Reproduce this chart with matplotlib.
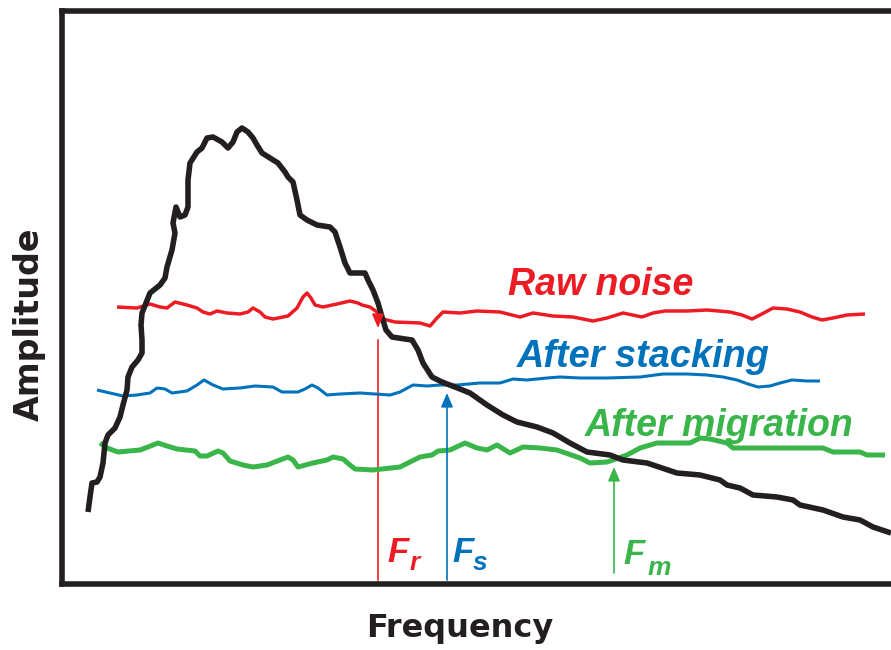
import matplotlib
matplotlib.use("Agg")
import matplotlib.pyplot as plt

# Colours
BLACK = "#231F20"
RED = "#ED1C24"
BLUE = "#0072BC"
GREEN = "#39B54A"

# Signal spectrum (frequency, amplitude) in arbitrary units
signal_f = [26, 28, 30, 35, 38, 41, 43, 46, 53, 58, 61, 65, 66, 70, 76, 80, 80, 79, 80,
            88, 98, 103, 105, 110, 113, 111, 114, 118, 123, 126, 126, 128, 135, 140, 145,
            151, 160, 166, 171, 175, 180, 186, 191, 195, 200, 208, 216, 223, 226, 231,
            235, 238, 245, 255, 268, 273, 278, 283, 288, 295, 303, 306, 311, 316, 320,
            324, 330, 343, 350, 356, 361, 370, 380, 393, 408, 425, 441, 455, 475, 491,
            508, 525, 548, 561, 585, 615, 638, 658, 665, 678, 691, 715, 731, 738, 761,
            781, 798, 811, 829]
signal_a = [72, 87, 101, 102, 107, 121, 141, 149, 156, 167, 179, 194, 207, 217, 224, 231,
            244, 259, 271, 291, 299, 306, 317, 334, 351, 361, 377, 367, 369, 377, 404,
            421, 432, 436, 446, 447, 442, 436, 442, 452, 456, 452, 446, 439, 431, 426,
            421, 412, 407, 402, 384, 369, 364, 359, 357, 352, 337, 321, 311, 311, 311,
            304, 294, 281, 267, 254, 247, 245, 244, 234, 221, 207, 202, 197, 191, 179,
            169, 162, 157, 151, 141, 132, 129, 124, 121, 111, 109, 104, 99, 96, 89, 87,
            84, 79, 74, 67, 64, 57, 51]

# Raw noise spectrum
raw_f = [55, 75, 88, 98, 105, 113, 125, 135, 141, 148, 155, 165, 178, 186, 191, 198,
         203, 211, 226, 235, 241, 245, 249, 253, 261, 275, 288, 296, 300, 308, 315, 321,
         333, 358, 368, 375, 381, 398, 415, 438, 458, 471, 491, 511, 531, 545, 561, 580,
         591, 603, 625, 645, 668, 680, 690, 698, 711, 725, 738, 750, 760, 771, 785, 803]
raw_a = [277, 276, 280, 277, 276, 282, 279, 276, 272, 270, 273, 271, 270, 272, 276, 272,
         267, 265, 268, 276, 287, 291, 286, 279, 277, 280, 283, 281, 279, 277, 272, 265,
         262, 261, 258, 266, 272, 271, 273, 272, 267, 271, 268, 267, 263, 266, 271, 267,
         271, 273, 273, 274, 272, 269, 265, 269, 276, 275, 272, 267, 264, 266, 269, 270]

# Noise after stacking
stack_f = [35, 48, 61, 75, 88, 95, 103, 110, 125, 135, 142, 151, 161, 178, 193, 211,
           220, 236, 243, 250, 256, 265, 278, 298, 328, 338, 351, 365, 378, 395, 418,
           438, 451, 465, 485, 498, 518, 545, 578, 601, 625, 645, 661, 675, 686, 696,
           708, 718, 730, 745, 758]
stack_a = [194, 191, 188, 189, 191, 196, 195, 191, 193, 199, 204, 199, 195, 196, 198,
           197, 192, 192, 195, 199, 196, 189, 190, 191, 189, 192, 199, 198, 199, 199,
           201, 201, 205, 204, 206, 207, 206, 206, 207, 210, 210, 209, 207, 204, 200,
           197, 198, 201, 204, 203, 203]

# Noise after migration
migr_f = [38, 45, 56, 78, 86, 96, 105, 115, 133, 138, 145, 156, 161, 168, 181, 191, 205,
          218, 226, 231, 236, 251, 265, 271, 281, 288, 293, 311, 338, 348, 358, 370, 376,
          388, 403, 415, 425, 435, 448, 461, 478, 495, 518, 528, 545, 565, 578, 595, 628,
          638, 648, 665, 671, 698, 761, 771, 798, 805, 823]
migr_a = [141, 136, 132, 134, 137, 141, 138, 135, 133, 128, 128, 133, 131, 123, 119, 117,
          119, 124, 127, 124, 117, 121, 124, 127, 125, 119, 115, 114, 117, 122, 127, 129,
          133, 134, 141, 136, 134, 139, 131, 137, 136, 134, 126, 121, 122, 129, 136, 141,
          141, 146, 145, 141, 136, 136, 136, 132, 132, 129, 129]

# Cut-off frequencies where each noise level meets the signal
cutoff_f = {"r": 316, "s": 385, "m": 552}

fig = plt.figure(figsize=(8.91, 6.5), dpi=100)
ax = fig.add_axes([62 / 891, 66 / 650, 829 / 891, 573.5 / 650])
ax.set_xlim(0, 829)
ax.set_ylim(0, 573.5)
ax.set_xticks([])
ax.set_yticks([])
for side in ("left", "top", "bottom"):
    ax.spines[side].set_linewidth(4)
    ax.spines[side].set_color(BLACK)
ax.spines["right"].set_visible(False)

line_kw = dict(solid_capstyle="butt", solid_joinstyle="round")
ax.plot(raw_f, raw_a, color=RED, lw=2.5, **line_kw, zorder=3)
ax.plot(stack_f, stack_a, color=BLUE, lw=2.2, **line_kw, zorder=3)
ax.plot(migr_f, migr_a, color=GREEN, lw=3.6, **line_kw, zorder=3)
ax.plot(signal_f, signal_a, color=BLACK, lw=4, **line_kw, zorder=4)

# Cut-off markers
head = dict(arrowstyle="-|>,head_length=0.7,head_width=0.3", mutation_scale=12,
            lw=1.2, shrinkA=0, shrinkB=0)
ax.plot([cutoff_f["r"]] * 2, [4, 244], color=RED, lw=1.2, zorder=2)
ax.annotate("", xy=(cutoff_f["r"], 256), xytext=(cutoff_f["r"], 270),
            arrowprops=dict(color=RED, **head), zorder=5)
ax.annotate("", xy=(cutoff_f["s"], 191), xytext=(cutoff_f["s"], 4),
            arrowprops=dict(color=BLUE, **head), zorder=5)
ax.annotate("", xy=(cutoff_f["m"], 117), xytext=(cutoff_f["m"], 11),
            arrowprops=dict(color=GREEN, **head), zorder=5)

lab_kw = dict(family="Liberation Sans", weight="bold", style="italic", va="baseline",
              ha="left")
ax.text(446, 289, "Raw noise", color=RED, fontsize=27, **lab_kw)
ax.text(455, 217, "After stacking", color=BLUE, fontsize=27.3, **lab_kw)
ax.text(523, 148, "After migration", color=GREEN, fontsize=27, **lab_kw)

# F labels with subscripts
for f_left, sub, sub_left, base, sub_base, col in [
        (325, "r", 348, 22, 14, RED),
        (390, "s", 411, 22, 14, BLUE),
        (561, "m", 586, 20, 9, GREEN)]:
    ax.text(f_left, base, "F", color=col, fontsize=25, **lab_kw)
    ax.text(sub_left, sub_base, sub, color=col, fontsize=19, **lab_kw)

fig.text(460 / 891, 1 - 637 / 650, "Frequency", family="DejaVu Sans", weight="bold",
         fontsize=23, ha="center", va="baseline", color=BLACK)
fig.text(29 / 891, 1 - 324 / 650, "Amplitude", family="DejaVu Sans", weight="bold",
         fontsize=24, ha="center", va="center", rotation=90, color=BLACK)

fig.savefig("out.png", dpi=100)
